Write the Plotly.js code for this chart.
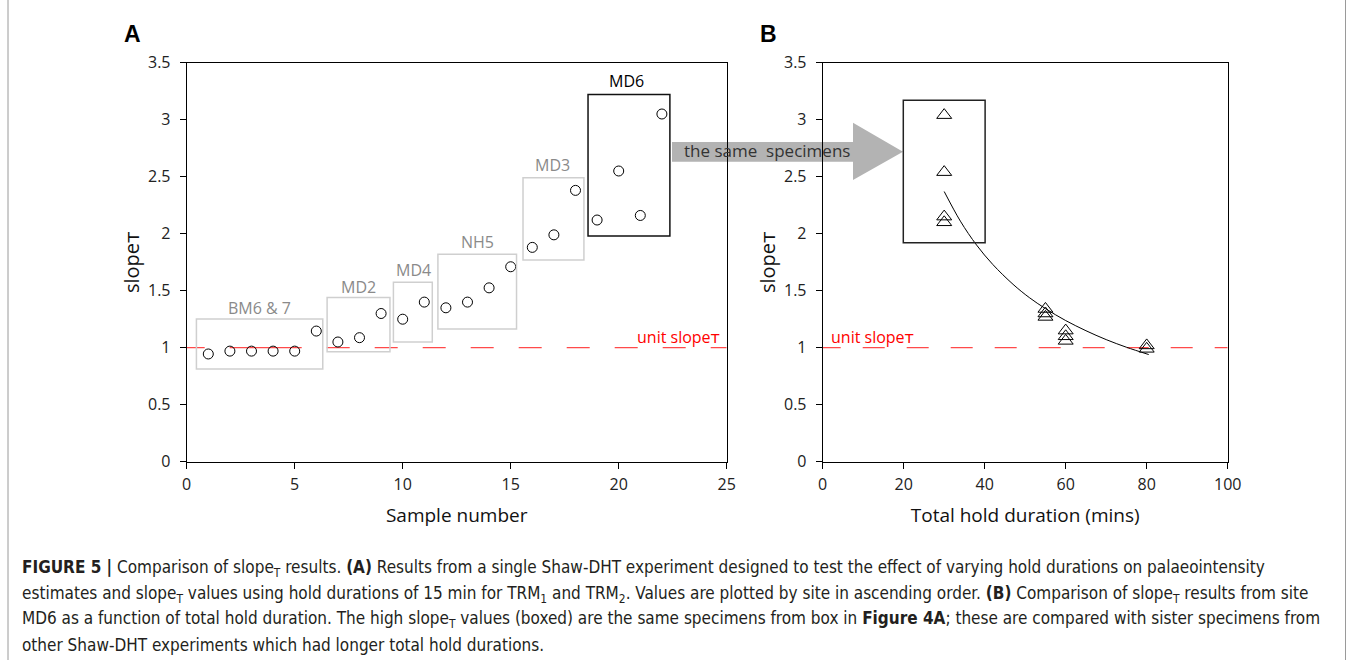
<!DOCTYPE html>
<html>
<head>
<meta charset="utf-8">
<script src="https://cdn.plot.ly/plotly-3.0.1.min.js"></script>
<style>html,body{margin:0;padding:0;background:#fff;}#chart{width:1356px;height:660px;}</style>
</head>
<body>
<div id="chart"></div>
<script>
// ---------- DATA ----------
const sampleNumber = [1,2,3,4,5,6,7,8,9,10,11,12,13,14,15,16,17,18,19,20,21,22];
const slopeA = [0.945,0.97,0.97,0.97,0.97,1.146,1.05,1.088,1.30,1.25,1.40,1.35,1.40,1.525,1.71,1.88,1.99,2.38,2.12,2.55,2.16,3.05];

const holdDuration = [30,30,30,30,55,55,55,60,60,60,80,80];
const slopeB = [3.04,2.54,2.15,2.10,1.34,1.30,1.27,1.15,1.10,1.06,1.02,0.99];

const trendX = [30,34,38,42,47,51,55,60,65,70,75,80.5];
const trendY = [2.37,2.11,1.90,1.73,1.556,1.44,1.343,1.238,1.149,1.071,1.004,0.94];

const siteNames = ["BM6 & 7","MD2","MD4","NH5","MD3","MD6"];
const siteXmin = [0.45,6.50,9.57,11.63,15.57,18.58];
const siteXmax = [6.30,9.41,11.37,15.27,18.39,22.37];
const siteYmin = [0.814,0.965,1.05,1.164,1.77,1.98];
const siteYmax = [1.251,1.441,1.575,1.82,2.49,3.22];

const boxB = {x0:19.9, x1:40.1, y0:1.92, y1:3.17};
const unitSlope = 1;

const xTicksA = [0,5,10,15,20,25];
const xTicksB = [0,20,40,60,80,100];
const yTicks = [0,0.5,1,1.5,2,2.5,3,3.5];
const yTickText = ["0","0.5","1","1.5","2","2.5","3","3.5"];

const captionLines = [
  "<b>FIGURE 5 |</b> Comparison of slope<sub>T</sub> results. <b>(A)</b> Results from a single Shaw-DHT experiment designed to test the effect of varying hold durations on palaeointensity",
  "estimates and slope<sub>T</sub> values using hold durations of 15 min for TRM<sub>1</sub> and TRM<sub>2</sub>. Values are plotted by site in ascending order. <b>(B)</b> Comparison of slope<sub>T</sub> results from site",
  "MD6 as a function of total hold duration. The high slope<sub>T</sub> values (boxed) are the same specimens from box in <b>Figure 4A</b>; these are compared with sister specimens from",
  "other Shaw-DHT experiments which had longer total hold durations."
];

// ---------- LAYOUT HELPERS ----------
const W = 1356, H = 660;
const px = x => x / W;
const py = y => 1 - y / H;
const FONT = "Open Sans, DejaVu Sans, sans-serif";
const CAPFONT = "Liberation Sans Narrow, DejaVu Sans Condensed, Arial Narrow, sans-serif";

function dashString(first, on, off, len) {
  let parts = first.slice();
  let total = parts.reduce((a,b)=>a+b,0);
  let isOn = parts.length % 2 === 0;
  while (total < len) { const v = isOn ? on : off; parts.push(v); total += v; isOn = !isOn; }
  if (parts.length % 2 === 1) parts.push(off);
  return parts.map(v => v + "px").join(",");
}

const traces = [
  {x:[0,25], y:[unitSlope,unitSlope], xaxis:'x', yaxis:'y', mode:'lines',
   line:{color:'#ff4a4a', width:1.2, dash:dashString([18,25,72,25],23,25,560)}, hoverinfo:'skip'},
  {x:[0,100], y:[unitSlope,unitSlope], xaxis:'x2', yaxis:'y2', mode:'lines',
   line:{color:'#ff4a4a', width:1.2, dash:dashString([18,22],22,22,420)}, hoverinfo:'skip'},
  {x:sampleNumber, y:slopeA, xaxis:'x', yaxis:'y', mode:'markers',
   marker:{symbol:'circle-open', size:10, color:'#000', line:{width:1, color:'#000'}}},
  {x:trendX, y:trendY, xaxis:'x2', yaxis:'y2', mode:'lines', line:{color:'#000', width:1, shape:'spline'}, hoverinfo:'skip'},
  {x:holdDuration, y:slopeB, xaxis:'x2', yaxis:'y2', mode:'markers',
   marker:{symbol:'triangle-up-open', size:13, color:'#000', line:{width:1, color:'#000'}}}
];

const shapes = [];
const annotations = [];

// site boxes and labels in panel A
const labelPos = [[3.36,1.35],[7.95,1.53],[10.49,1.68],[13.45,1.93],[16.92,2.60],[20.38,3.34]];
siteNames.forEach((name,i) => {
  const last = i === siteNames.length - 1;
  shapes.push({type:'rect', xref:'x', yref:'y', x0:siteXmin[i], x1:siteXmax[i], y0:siteYmin[i], y1:siteYmax[i],
    line:{color: last ? '#111' : '#cfcfcf', width:1.5}, fillcolor:'rgba(0,0,0,0)', layer:'above'});
  annotations.push({xref:'x', yref:'y', x:labelPos[i][0], y:labelPos[i][1], text:name, showarrow:false,
    font:{family:FONT, size:16, color: last ? '#000' : '#8a8a8a'}, xanchor:'center', yanchor:'middle'});
});
// box in panel B
shapes.push({type:'rect', xref:'x2', yref:'y2', x0:boxB.x0, x1:boxB.x1, y0:boxB.y0, y1:boxB.y1,
  line:{color:'#222', width:1.5}, fillcolor:'rgba(0,0,0,0)', layer:'above'});

// arrow between panels
const arrowPts = [[672,142],[853,142],[853,122.7],[903,151.7],[853,180],[853,161.7],[672,161.7]];
shapes.push({type:'path', xref:'paper', yref:'paper', layer:'below',
  path: 'M ' + arrowPts.map(p => px(p[0]) + ',' + py(p[1])).join(' L ') + ' Z',
  fillcolor:'#b3b3b3', line:{width:0}});
annotations.push({xref:'paper', yref:'paper', x:px(767), y:py(151), text:'the same  specimens', showarrow:false,
  font:{family:FONT, size:17, color:'#333'}, xanchor:'center', yanchor:'middle'});

// unit slope labels
annotations.push({xref:'x', yref:'y', x:22.79, y:1.094, text:'unit slopeᴛ', showarrow:false,
  font:{family:FONT, size:16, color:'#ff0000'}, xanchor:'center', yanchor:'middle'});
annotations.push({xref:'x2', yref:'y2', x:12.2, y:1.094, text:'unit slopeᴛ', showarrow:false,
  font:{family:FONT, size:16, color:'#ff0000'}, xanchor:'center', yanchor:'middle'});

// panel letters
annotations.push({xref:'paper', yref:'paper', x:px(132), y:py(34), text:'<b>A</b>', showarrow:false,
  font:{family:'Liberation Sans, Arial, sans-serif', size:23, color:'#000'}, xanchor:'center', yanchor:'middle'});
annotations.push({xref:'paper', yref:'paper', x:px(768), y:py(34), text:'<b>B</b>', showarrow:false,
  font:{family:'Liberation Sans, Arial, sans-serif', size:23, color:'#000'}, xanchor:'center', yanchor:'middle'});

// caption
const capY = [568, 594, 619.5, 645];
captionLines.forEach((t,i) => {
  annotations.push({xref:'paper', yref:'paper', x:px(20), y:py(capY[i]), text:t, showarrow:false,
    font:{family:CAPFONT, size:17, color:'#231f20'}, xanchor:'left', yanchor:'middle', align:'left'});
});

// outer frame lines
shapes.push({type:'line', xref:'paper', yref:'paper', x0:px(8), x1:px(8), y0:0, y1:1, line:{color:'#9a9a9a', width:1}});
shapes.push({type:'line', xref:'paper', yref:'paper', x0:px(1345.5), x1:px(1345.5), y0:0, y1:1, line:{color:'#9a9a9a', width:1}});

const axisCommon = {
  showgrid:false, zeroline:false, showline:true, linecolor:'#000', linewidth:1, mirror:true,
  ticks:'outside', ticklen:6, tickcolor:'#000', tickwidth:1,
  tickfont:{family:FONT, size:16, color:'#222'}, fixedrange:true
};
const xAxisExtra = {ticklabelstandoff:2};
const yAxisExtra = {ticklabelstandoff:6};
const yDomain = [py(461.7), py(62.7)];

const layout = {
  width:W, height:H, margin:{l:0, r:0, t:0, b:0},
  paper_bgcolor:'#fff', plot_bgcolor:'#fff', showlegend:false,
  font:{family:FONT},
  xaxis: Object.assign({}, axisCommon, xAxisExtra, {domain:[px(186.7), px(726.7)], range:[0,25], tickvals:xTicksA, anchor:'y',
    title:{text:'Sample number', font:{family:FONT, size:19, color:'#111'}, standoff:14}}),
  yaxis: Object.assign({}, axisCommon, yAxisExtra, {domain:yDomain, range:[0,3.5], tickvals:yTicks, ticktext:yTickText, anchor:'x',
    title:{text:'slopeᴛ', font:{family:FONT, size:20, color:'#111'}, standoff:2}}),
  xaxis2: Object.assign({}, axisCommon, xAxisExtra, {domain:[px(822.7), px(1227.7)], range:[0,100], tickvals:xTicksB, anchor:'y2',
    title:{text:'Total hold duration (mins)', font:{family:FONT, size:19, color:'#111'}, standoff:14}}),
  yaxis2: Object.assign({}, axisCommon, yAxisExtra, {domain:yDomain, range:[0,3.5], tickvals:yTicks, ticktext:yTickText, anchor:'x2',
    title:{text:'slopeᴛ', font:{family:FONT, size:20, color:'#111'}, standoff:2}}),
  shapes: shapes,
  annotations: annotations
};

Plotly.newPlot('chart', traces, layout, {displayModeBar:false, staticPlot:true});
</script>
</body>
</html>
